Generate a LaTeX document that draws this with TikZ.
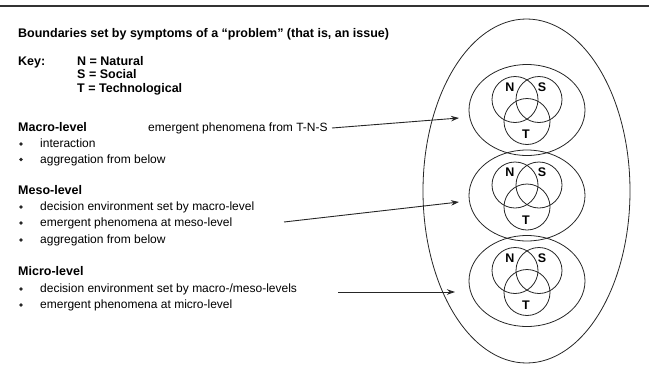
\documentclass[tikz,border=0pt]{standalone}
\usepackage{fontspec}
\setmainfont{Liberation Sans}
\usetikzlibrary{arrows.meta}
\begin{document}
\begin{tikzpicture}[x=1pt,y=-1pt,
  txt/.style={anchor=base west, inner sep=0pt, font=\fontsize{12}{14}\selectfont},
  hd/.style={anchor=base west, inner sep=0pt, font=\fontsize{12.5}{15}\selectfont\bfseries},
  bullet/.style={circle, fill=black!85, draw=none, inner sep=0pt, minimum size=3.6pt},
  ring/.style={draw=black!85, line width=0.8pt},
  lbl/.style={font=\fontsize{12.5}{15}\selectfont\bfseries, inner sep=0pt},
  link/.style={draw=black!85, line width=0.9pt, -{Stealth[length=8pt,width=5.5pt]}}
]
\useasboundingbox (0,0) rectangle (649,378);
% rule across the top
\draw[line width=1.8pt, black!80] (0,6) -- (649,6);

% left-hand text
\node[hd] (title) at (18,37) {Boundaries set by symptoms of a \char"201Cproblem\char"201D\ (that is, an issue)};
\node[hd] (key) at (18,65) {Key:};
\node[hd] (keyN) at (77,65) {N = Natural};
\node[hd] (keyS) at (77,78.5) {S = Social};
\node[hd] (keyT) at (77,92.5) {T = Technological};

\node[hd] (macro) at (18,131.5) {Macro-level};
\node[txt] (macroE) at (148,131.5) {emergent phenomena from T-N-S};
\node[txt] (ma1) at (40,147.5) {interaction};
\node[txt] (ma2) at (40,163) {aggregation from below};

\node[hd] (meso) at (18,194.5) {Meso-level};
\node[txt] (me1) at (40,210.5) {decision environment set by macro-level};
\node[txt] (me2) at (40,226.5) {emergent phenomena at meso-level};
\node[txt] (me3) at (40,243.5) {aggregation from below};

\node[hd] (micro) at (18,275.5) {Micro-level};
\node[txt] (mi1) at (40,292.5) {decision environment set by macro-/meso-levels};
\node[txt] (mi2) at (40,308.5) {emergent phenomena at micro-level};

\foreach \n/\y in {b1/144,b2/159.5,b3/207,b4/223,b5/240,b6/289,b7/305}
  \node[bullet] (\n) at (21,\y) {};

% outer boundary
\draw[ring] (526.5,191) ellipse [x radius=103.5, y radius=172];

% the three levels, each with its N-S-T overlap
\foreach \lev/\cy in {top/110,mid/195.5,low/281}{
  \draw[ring] (527,\cy) ellipse [x radius=58, y radius=45.5];
  \draw[ring] (515,\cy-10.5) circle [radius=23];
  \draw[ring] (539,\cy-10.5) circle [radius=23];
  \draw[ring] (527,\cy+11.5) circle [radius=23];
  \node[lbl] (\lev N) at (510,\cy-23) {N};
  \node[lbl] (\lev S) at (542,\cy-23) {S};
  \node[lbl] (\lev T) at (526,\cy+24.5) {T};
}

% arrows from the level descriptions
\coordinate (a1s) at (332,128);
\coordinate (a1e) at (459,118);
\coordinate (a2s) at (284,222);
\coordinate (a2e) at (459,202);
\coordinate (a3s) at (338,292);
\coordinate (a3e) at (455,292);
\draw[link] (a1s) -- (a1e);
\draw[link] (a2s) -- (a2e);
\draw[link] (a3s) -- (a3e);
\end{tikzpicture}
\end{document}
